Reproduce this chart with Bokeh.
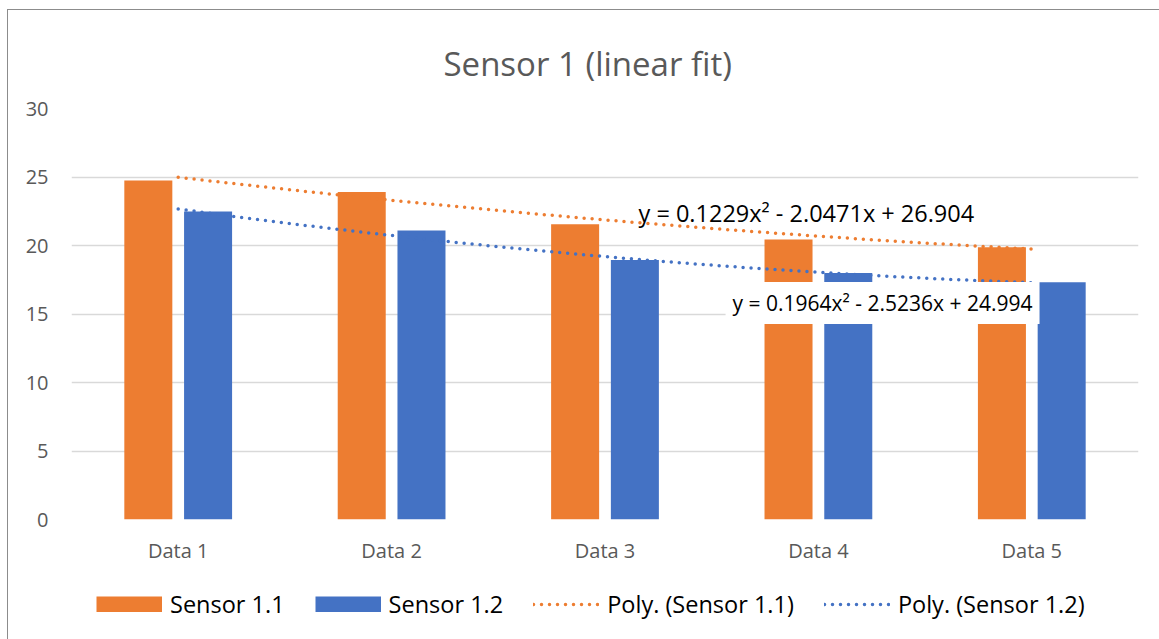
import numpy as np
from bokeh.plotting import figure
from bokeh.layouts import column
from bokeh.models import Label, Legend, LegendItem, FixedTicker, Range1d
from bokeh.embed import file_html
from bokeh.resources import INLINE

categories = ["Data 1", "Data 2", "Data 3", "Data 4", "Data 5"]
sensor_11 = [24.74, 23.9, 21.55, 20.44, 19.88]
sensor_12 = [22.48, 21.1, 18.95, 18.0, 17.32]
# trendline coefficients shown on the chart (a, b, c for a*x^2 + b*x + c)
poly_11 = [0.1229, -2.0471, 26.904]
poly_12 = [0.1964, -2.5236, 24.994]
eq_11 = "y = 0.1229x\u00b2 - 2.0471x + 26.904"
eq_12 = "y = 0.1964x\u00b2 - 2.5236x + 24.994"
series_names = ["Sensor 1.1", "Sensor 1.2", "Poly. (Sensor 1.1)", "Poly. (Sensor 1.2)"]
y_ticks = [0, 5, 10, 15, 20, 25, 30]

ORANGE = "#ED7D31"
BLUE = "#4472C4"
FONT = "Open Sans"

p = figure(width=1151, height=570, x_range=Range1d(0.5, 5.5), y_range=Range1d(0, 30),
           output_backend="svg", toolbar_location=None,
           title="Sensor 1 (linear fit)",
           min_border_left=63, min_border_right=21, min_border_top=98, min_border_bottom=61)
p.outline_line_color = None
p.background_fill_color = "white"
p.border_fill_color = "white"

p.title.align = "left"
p.title.offset = 372
p.title.vertical_align = "middle"
p.title.standoff = 44
p.title.text_font = FONT
p.title.text_font_size = "33px"
p.title.text_font_style = "normal"
p.title.text_color = "#595959"

idx = np.arange(1, len(categories) + 1)
r1 = p.vbar(x=idx - 0.14, top=sensor_11, width=0.225, fill_color=ORANGE, line_color=None)
r2 = p.vbar(x=idx + 0.14, top=sensor_12, width=0.225, fill_color=BLUE, line_color=None)

xs = np.linspace(1, len(categories), 80)
t1 = p.line(xs, np.polyval(poly_11, xs), line_color=ORANGE, line_width=3.5, line_dash="0 8", line_cap="round")
t2 = p.line(xs, np.polyval(poly_12, xs), line_color=BLUE, line_width=3.5, line_dash="0 8", line_cap="round")

p.xgrid.visible = False
p.ygrid.grid_line_color = "#D9D9D9"
p.ygrid.grid_line_width = 1.5
p.yaxis.ticker = FixedTicker(ticks=y_ticks)
p.xaxis.ticker = FixedTicker(ticks=list(idx))
p.xaxis.major_label_overrides = {int(i): c for i, c in zip(idx, categories)}
for ax in (p.xaxis[0], p.yaxis[0]):
    ax.axis_line_color = None
    ax.major_tick_line_color = None
    ax.minor_tick_line_color = None
    ax.major_tick_out = 0
    ax.major_tick_in = 0
    ax.major_label_text_font = FONT
    ax.major_label_text_font_size = "20px"
    ax.major_label_text_color = "#595959"
p.xaxis.major_label_standoff = 17
p.yaxis.major_label_standoff = 23

p.add_layout(Label(x=3.157, y=22.4, text=eq_11, text_align="left", text_baseline="middle",
                   text_font=FONT, text_font_size="23.5px", text_color="#000000"))
p.add_layout(Label(x=3.565, y=15.8, text=eq_12, text_align="left", text_baseline="middle",
                   text_font=FONT, text_font_size="21px", text_color="#000000",
                   background_fill_color="white", padding=7))

# legend strip below the chart (its own small figure, no axes); the sample
# renderers hold points outside the strip's ranges so only the legend shows them
q = figure(width=1151, height=59, x_range=Range1d(0, 1), y_range=Range1d(0, 1),
           output_backend="svg", toolbar_location=None,
           x_axis_location=None, y_axis_location=None, min_border=0)
q.outline_line_color = None
q.xgrid.visible = False
q.ygrid.visible = False
q.border_fill_color = "white"
l1 = q.line(x=[8, 9], y=[9, 9], line_color=ORANGE, line_width=16, line_cap="butt")
l2 = q.line(x=[8, 9], y=[9, 9], line_color=BLUE, line_width=16, line_cap="butt")
l3 = q.line(x=[8, 9], y=[9, 9], line_color=ORANGE, line_width=3.5, line_dash="0 8", line_cap="round")
l4 = q.line(x=[8, 9], y=[9, 9], line_color=BLUE, line_width=3.5, line_dash="0 8", line_cap="round")
legend = Legend(items=[LegendItem(label=n, renderers=[r]) for n, r in zip(series_names, [l1, l2, l3, l4])],
                orientation="horizontal", location=(25, 19),
                glyph_width=66, glyph_height=16, label_standoff=8, spacing=30,
                padding=0, margin=0, border_line_color=None, background_fill_alpha=0,
                label_text_font=FONT, label_text_font_size="23.5px", label_text_color="#000000")
q.add_layout(legend)

layout = column(p, q, spacing=0,
                styles={"margin-left": "7px", "margin-top": "9px",
                        "border-left": "1px solid #8c8c8c", "border-top": "1px solid #8c8c8c"})

open("out.html", "w").write(file_html(layout, INLINE))
